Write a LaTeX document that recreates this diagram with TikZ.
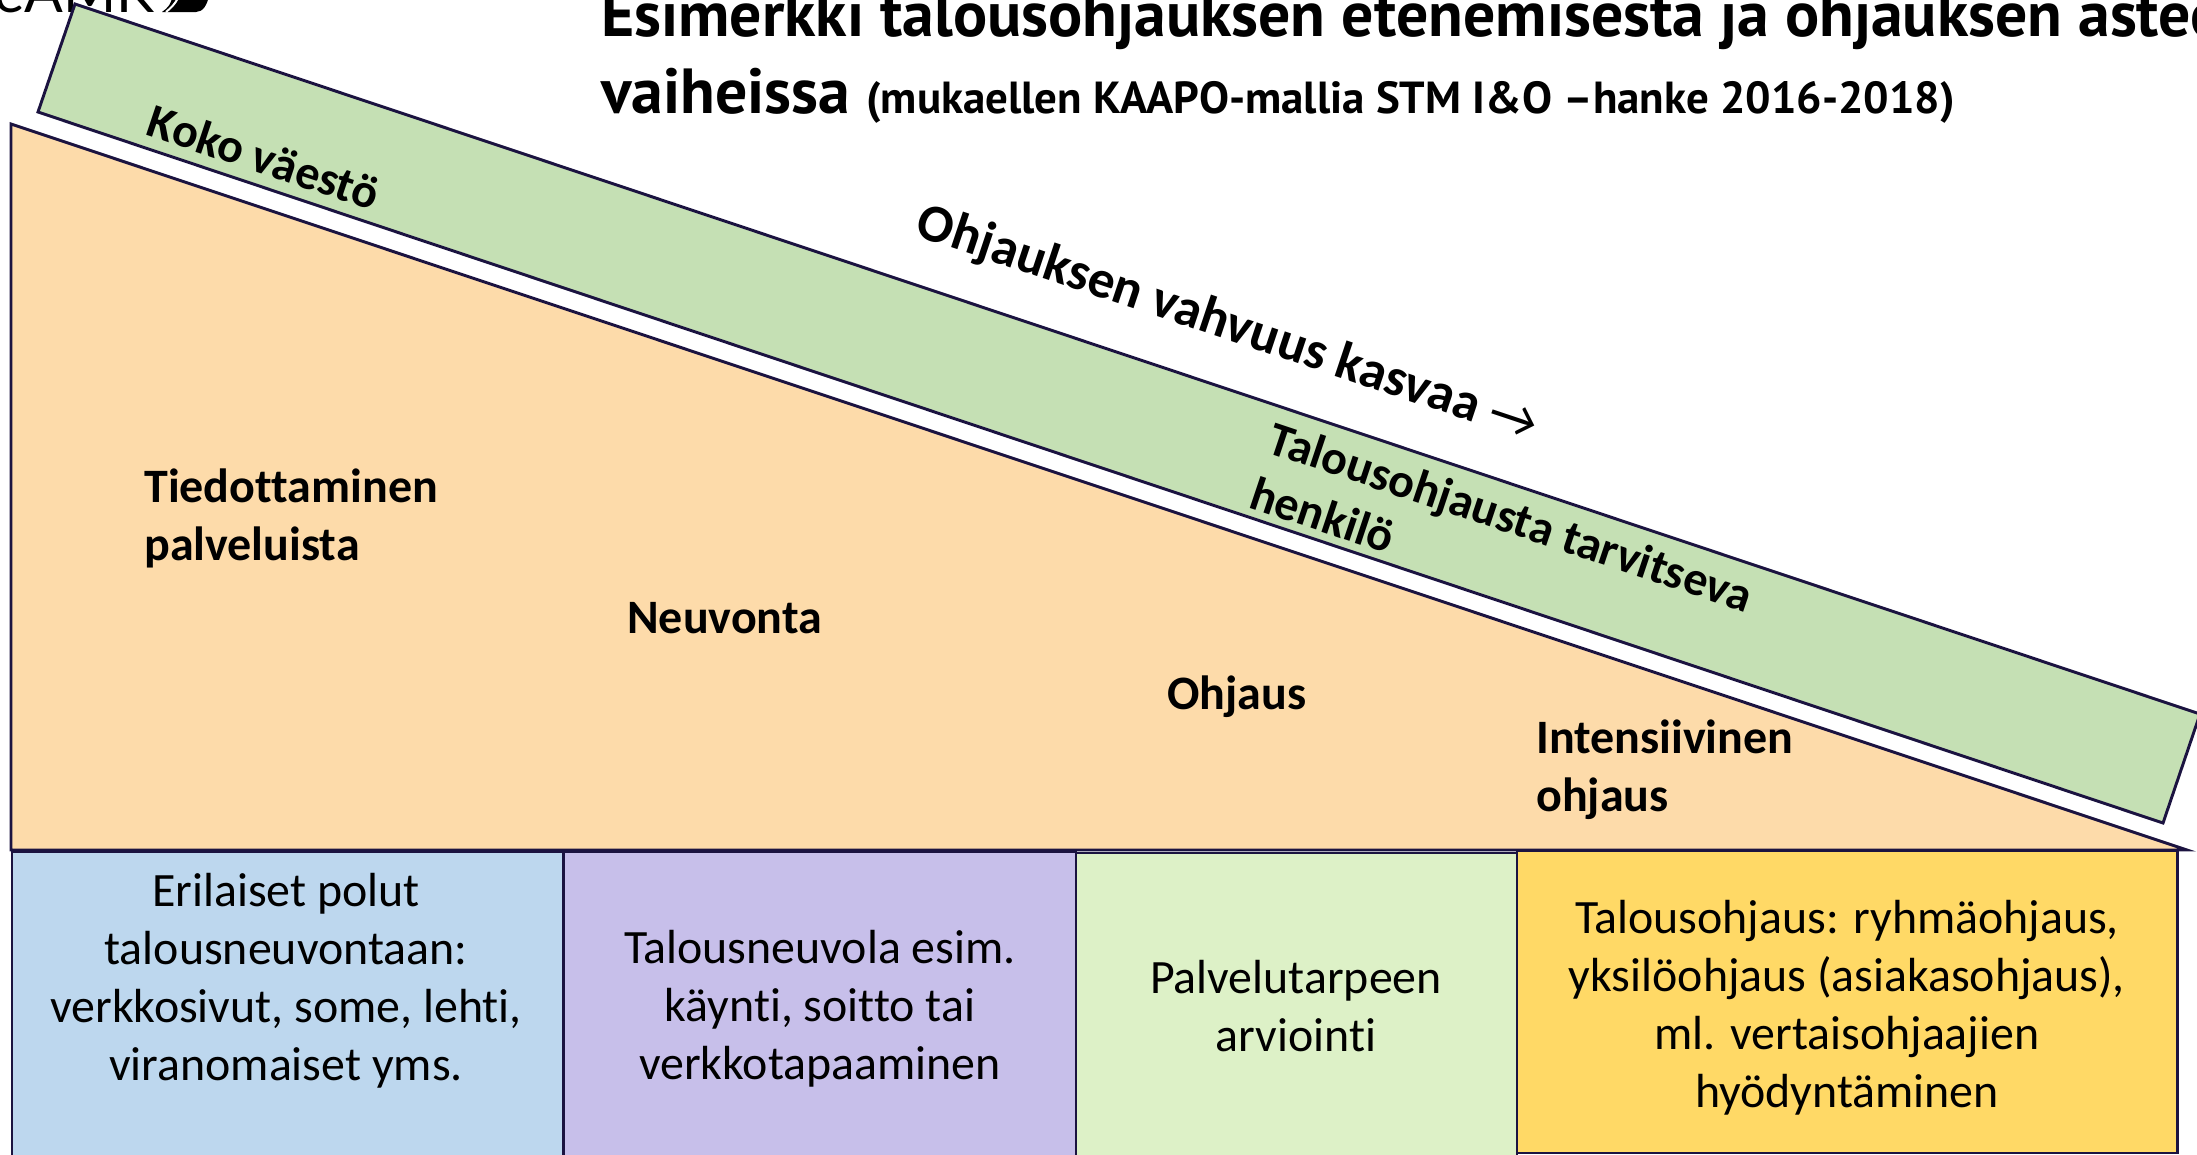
\documentclass[tikz,border=0pt]{standalone}
\usepackage{fontspec}
\setmainfont[Ligatures=NoCommon]{Carlito}
\newfontfamily\titlefont{PT Sans}
\newfontfamily\logofont{Lato}
\definecolor{edge}{HTML}{1B1340}
\definecolor{orangefill}{HTML}{FDDBAA}
\definecolor{greenfill}{HTML}{C5E0B4}
\definecolor{bluefill}{HTML}{BDD7EE}
\definecolor{purplefill}{HTML}{C7BFEA}
\definecolor{palefill}{HTML}{DDF1C7}
\definecolor{yellowfill}{HTML}{FFD966}
\tikzset{
  shapeline/.style={draw=edge,line width=2.2pt,line join=miter},
  body/.style={font=\fontsize{35.9}{43.5}\selectfont,align=center,inner sep=0pt,text=black},
  strong/.style={font=\fontsize{36}{43.5}\selectfont\bfseries,align=left,inner sep=0pt,text=black},
  slanted/.style={strong,rotate=-18.5},
  titlemain/.style={font=\titlefont\fontsize{47.8}{47.8}\selectfont\bfseries,inner sep=0pt,anchor=base west},
  titlesub/.style={font=\titlefont\fontsize{33.7}{33.7}\selectfont\bfseries,inner sep=0pt,anchor=base west},
}
\begin{document}
\begin{tikzpicture}[x=0.75pt,y=-0.75pt]
\useasboundingbox (0,0) rectangle (2197,1154);
\clip (0,0) rectangle (2197,1154);
% logo fragment
\node[font=\logofont\fontsize{43}{43}\selectfont,inner sep=0pt,anchor=base west] (logo) at (-6,12) {eAMK};
\fill[black] (162,12) -- (196,12) .. controls (203,12) and (207,5) .. (209,-4) -- (172,-4) .. controls (172,3) and (168,8) .. (162,12) -- cycle;
\draw[white,line width=1.5pt] (166,12) .. controls (171,8) and (175,4) .. (178,-2);
% triangle
\draw[shapeline,fill=orangefill] (11,124) -- (2187,850) -- (11,850) -- cycle;
% slanted band
\draw[shapeline,fill=greenfill] (75,4) -- (2200,714) -- (2163,823) -- (38,112) -- cycle;
% boxes
\draw[shapeline,fill=bluefill] (12,852) rectangle (563,1175);
\draw[shapeline,fill=purplefill] (564,852) rectangle (1076,1175);
\draw[shapeline,fill=palefill] (1076,853) rectangle (1517,1175);
\draw[shapeline,fill=yellowfill] (1517,851) rectangle (2177,1153);
% title
\node[titlemain] (title1) at (601,36) {Esimerkki talousohjauksen etenemisestä ja ohjauksen asteet};
\node[titlemain] (title2) at (601,113) {vaiheissa};
\node[titlesub] (title3) at (866,113) {(mukaellen KAAPO-mallia STM I\&O –hanke 2016-2018)};
% slanted labels
\node[slanted] (koko) at (264,157) {Koko väestö};
\node[slanted,font=\fontsize{40}{48}\selectfont\bfseries] (vahvuus) at (1227,325) {Ohjauksen vahvuus kasvaa {\mdseries →}};
\node[slanted] (tarvitseva) at (1502,544) {Talousohjausta tarvitseva\\henkilö};
% triangle labels
\node[strong,anchor=west] (tied) at (144,518) {Tiedottaminen\\palveluista};
\node[strong,anchor=west] (neuv) at (627,618) {Neuvonta};
\node[strong,anchor=west] (ohj) at (1167,697) {Ohjaus};
\node[strong,anchor=west] (int) at (1536,770) {Intensiivinen\\ohjaus};
% box labels
\node[body] (b1) at (286,981) {Erilaiset polut\\talousneuvontaan:\\verkkosivut, some, lehti,\\viranomaiset yms.};
\node[body] (b2) at (820,1009) {Talousneuvola esim.\\käynti, soitto tai\\verkkotapaaminen};
\node[body] (b3) at (1296,1006) {Palvelutarpeen\\arviointi};
\node[body] (b4) at (1847,1008) {Talousohjaus: ryhmäohjaus,\\yksilöohjaus (asiakasohjaus),\\ml. vertaisohjaajien\\hyödyntäminen};
\end{tikzpicture}
\end{document}
